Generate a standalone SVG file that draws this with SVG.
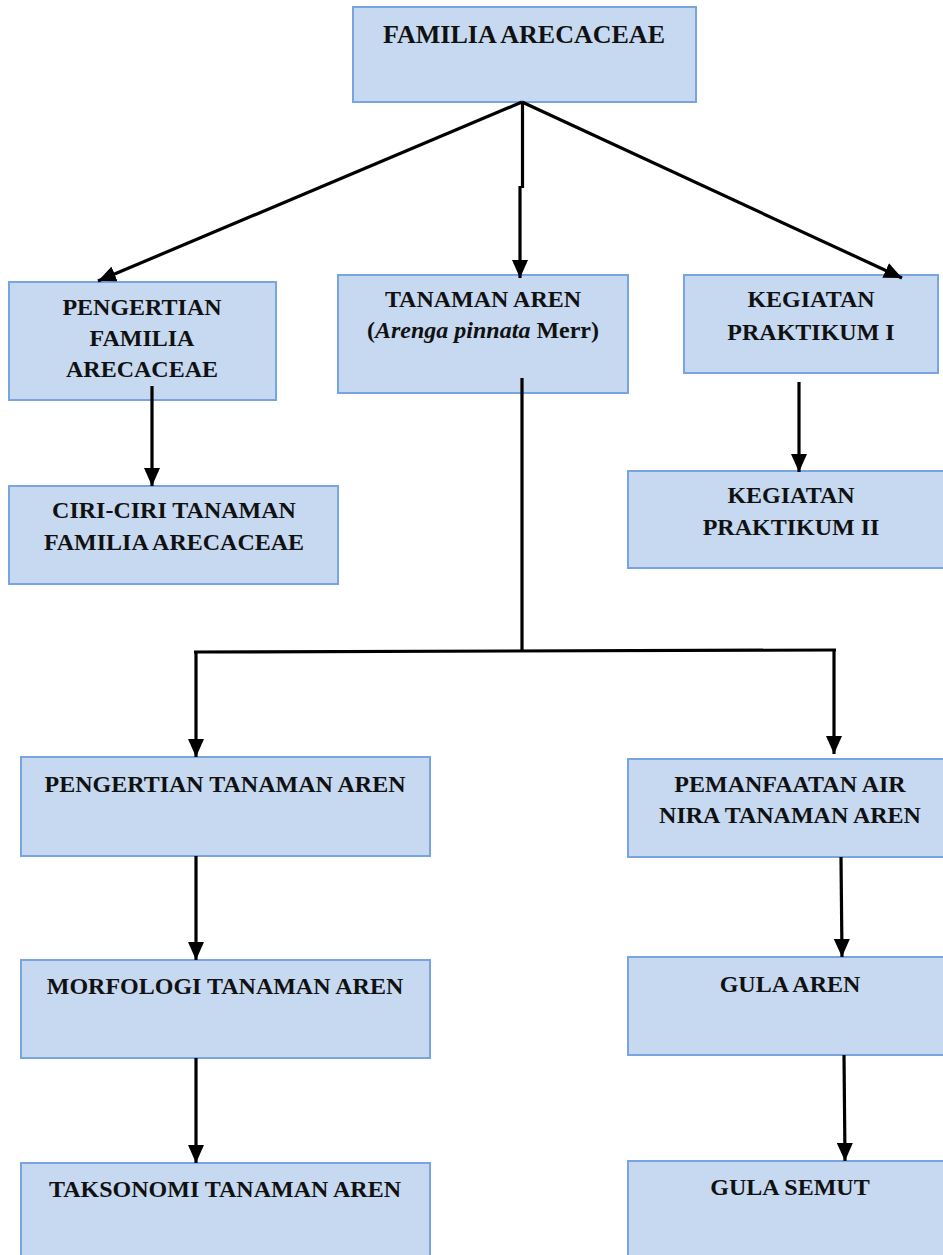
<svg xmlns="http://www.w3.org/2000/svg" width="943" height="1255" viewBox="0 0 943 1255">
<style>
.box{fill:#c6d9f1;stroke:#78a5e0;stroke-width:2}
.t{font-family:"Liberation Serif","Times New Roman",serif;font-weight:bold;font-size:24px;fill:#111;text-anchor:middle}
.c{fill:none;stroke:#000;stroke-width:3.2;marker-end:url(#ah)}
.n{fill:none;stroke:#000;stroke-width:3.2}
</style>
<defs>
<marker id="ah" markerUnits="userSpaceOnUse" markerWidth="18" markerHeight="16" viewBox="0 0 18 16" refX="18" refY="8" orient="auto">
<path d="M0,0 L18,8 L0,16 Z" fill="#000"/>
</marker>
</defs>
<rect width="943" height="1255" fill="#fff"/>
<g id="familia">
<rect class="box" x="353" y="7" width="343" height="95"/>
<text class="t" x="524" y="43" style="font-size:26px">FAMILIA ARECACEAE</text>
</g>
<g id="pengertian-familia">
<rect class="box" x="9" y="282" width="267" height="118"/>
<text class="t" x="142" y="315">PENGERTIAN</text>
<text class="t" x="142" y="346">FAMILIA</text>
<text class="t" x="142" y="377">ARECACEAE</text>
</g>
<g id="tanaman-aren">
<rect class="box" x="338" y="275" width="290" height="118"/>
<text class="t" x="483" y="307">TANAMAN AREN</text>
<text class="t" x="483" y="338">(<tspan font-style="italic">Arenga pinnata</tspan> Merr)</text>
</g>
<g id="praktikum1">
<rect class="box" x="684" y="275" width="254" height="98"/>
<text class="t" x="811" y="307">KEGIATAN</text>
<text class="t" x="811" y="340">PRAKTIKUM I</text>
</g>
<g id="ciri-ciri">
<rect class="box" x="9" y="486" width="329" height="98"/>
<text class="t" x="174" y="518">CIRI-CIRI TANAMAN</text>
<text class="t" x="174" y="550">FAMILIA ARECACEAE</text>
</g>
<g id="praktikum2">
<rect class="box" x="628" y="471" width="320" height="97"/>
<text class="t" x="791" y="503">KEGIATAN</text>
<text class="t" x="791" y="535">PRAKTIKUM II</text>
</g>
<g id="pengertian-aren">
<rect class="box" x="21" y="757" width="409" height="99"/>
<text class="t" x="225" y="792">PENGERTIAN TANAMAN AREN</text>
</g>
<g id="pemanfaatan">
<rect class="box" x="628" y="759" width="320" height="98"/>
<text class="t" x="790" y="792">PEMANFAATAN AIR</text>
<text class="t" x="790" y="823">NIRA TANAMAN AREN</text>
</g>
<g id="morfologi">
<rect class="box" x="21" y="960" width="409" height="98"/>
<text class="t" x="225" y="994">MORFOLOGI TANAMAN AREN</text>
</g>
<g id="gula-aren">
<rect class="box" x="628" y="957" width="320" height="98"/>
<text class="t" x="790" y="992">GULA AREN</text>
</g>
<g id="taksonomi">
<rect class="box" x="21" y="1163" width="409" height="110"/>
<text class="t" x="225" y="1197">TAKSONOMI TANAMAN AREN</text>
</g>
<g id="gula-semut">
<rect class="box" x="628" y="1161" width="320" height="110"/>
<text class="t" x="790" y="1195">GULA SEMUT</text>
</g>
<g id="connectors">
<path class="c" d="M522,102 L98,281"/>
<path class="n" d="M522.5,102 L522.5,188"/>
<path class="c" d="M520,186 L520,278"/>
<path class="c" d="M522,102 L902,278"/>
<path class="c" d="M152,386 L152,486"/>
<path class="c" d="M799,382 L799,472"/>
<path class="n" d="M522,378 L522,652 M194,652 L836,650"/>
<path class="c" d="M196,651 L196,757"/>
<path class="c" d="M834,649 L834,754"/>
<path class="c" d="M196,856 L196,960"/>
<path class="c" d="M196,1058 L196,1163"/>
<path class="c" d="M841,857 L842,957"/>
<path class="c" d="M844,1055 L845,1161"/>
</g>
</svg>
